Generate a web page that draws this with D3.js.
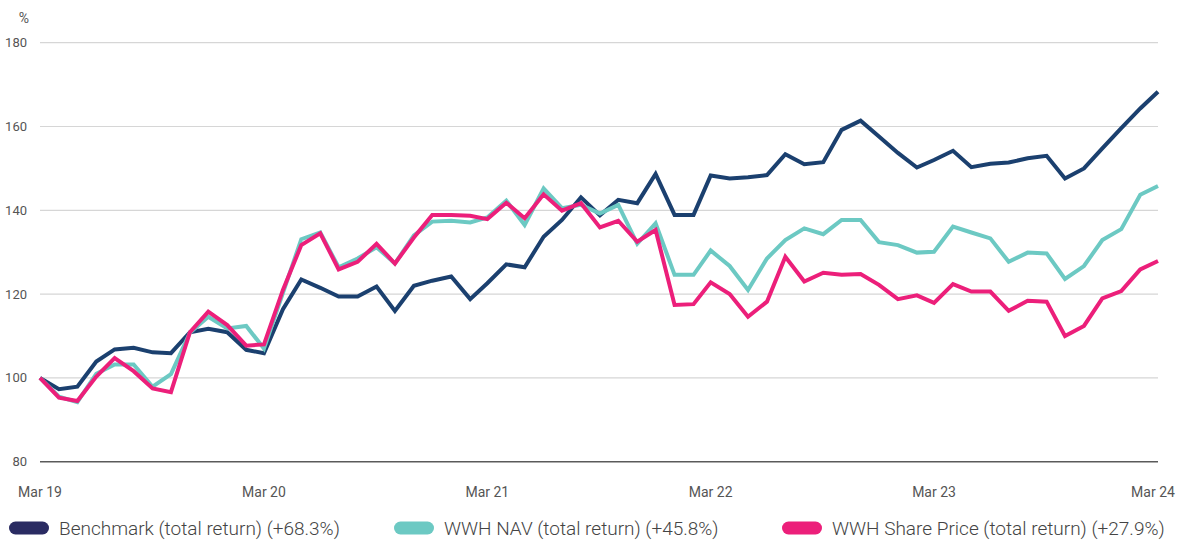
<!DOCTYPE html>
<html>
<head>
<meta charset="utf-8">
<script src="https://cdn.jsdelivr.net/npm/d3@7"></script>
<style>
  body { margin: 0; background: #fff; }
  #chart { width: 1184px; height: 543px; }
  text { font-family: Roboto, "Noto Sans", sans-serif; }
</style>
</head>
<body>
<div id="chart"></div>
<script>
(function () {

    // monthly index levels, Mar 19 = 100
    const benchmark = [100, 97.3, 97.9, 103.9, 106.8, 107.2, 106.1, 105.9, 110.9, 111.7, 110.9, 106.7, 105.9,
        116.4, 123.5, 121.5, 119.4, 119.4, 121.8, 116, 122, 123.2, 124.2, 118.8, 122.6,
        127.1, 126.4, 133.7, 137.7, 143.1, 138.8, 142.5, 141.7, 148.7, 138.9, 138.9, 148.3,
        147.6, 147.9, 148.4, 153.4, 151, 151.5, 159.2, 161.4, 157.6, 153.7, 150.2, 152,
        154.2, 150.3, 151.1, 151.4, 152.4, 153, 147.6, 150, 154.8, 159.6, 164.3, 168.3]

    const nav = [100, 95.5, 94.2, 101, 103.2, 103.2, 97.9, 100.9, 110.8, 114.6, 111.8, 112.4, 107,
        120.3, 133.1, 134.7, 126.4, 128.5, 131.2, 127.3, 134, 137.3, 137.5, 137.1, 138.3,
        142.3, 136.5, 145.2, 140.5, 141.3, 139.2, 141.3, 132, 136.9, 124.6, 124.6, 130.4,
        126.7, 121, 128.5, 132.9, 135.7, 134.3, 137.7, 137.7, 132.4, 131.7, 129.9, 130.1,
        136.1, 134.7, 133.3, 127.7, 129.9, 129.7, 123.6, 126.7, 132.9, 135.5, 143.7, 145.8]

    const sharePrice = [100, 95.3, 94.5, 100.3, 104.7, 101.6, 97.5, 96.6, 110.9, 115.8, 112.6, 107.7, 108,
        121, 131.7, 134.5, 125.9, 127.7, 132, 127.3, 133.5, 138.9, 138.9, 138.7, 137.9,
        141.8, 138.1, 143.8, 139.9, 141.7, 135.9, 137.5, 132.5, 135.3, 117.4, 117.6, 122.8,
        120, 114.6, 118.2, 128.9, 123, 125.1, 124.6, 124.8, 122.2, 118.8, 119.7, 117.9,
        122.4, 120.6, 120.6, 116, 118.4, 118.2, 110, 112.4, 119, 120.7, 125.9, 127.9]

    const xTickLabels = ['Mar 19', 'Mar 20', 'Mar 21', 'Mar 22', 'Mar 23', 'Mar 24']
    const yTicks = [80, 100, 120, 140, 160, 180]

    const seriesNames = ['Benchmark (total return) (+68.3%)', 'WWH NAV (total return) (+45.8%)', 'WWH Share Price (total return) (+27.9%)']
    const lineColors = ['#1b406f', '#6cc9c3', '#ec1f7a']
    const swatchColors = ['#2a2b62', '#6cc9c3', '#ec1f7a']

    const width = 1184
    const height = 543

    const startDate = new Date(2019, 2, 1)
    const dates = benchmark.map((d, i) => d3.timeMonth.offset(startDate, i))

    const svg = d3.select('#chart')
        .append('svg')
        .attr('width', width)
        .attr('height', height)

    const x = d3.scaleTime()
        .domain([dates[0], dates[dates.length - 1]])
        .range([40, 1158])

    const y = d3.scaleLinear()
        .domain([80, 180])
        .range([461.7, 42.7])

    // gridlines
    svg.append('g')
        .selectAll('line')
        .data(yTicks)
        .join('line')
        .attr('x1', 40)
        .attr('x2', 1158)
        .attr('y1', d => y(d))
        .attr('y2', d => y(d))
        .attr('stroke', d => d === 80 ? '#5a5a5a' : '#d6d6d6')
        .attr('stroke-width', d => d === 80 ? 1.5 : 1.2)

    svg.append('g')
        .selectAll('text')
        .data(yTicks)
        .join('text')
        .attr('x', 27)
        .attr('y', d => y(d) + 4.5)
        .attr('text-anchor', 'end')
        .attr('font-size', 13)
        .attr('fill', '#555')
        .text(d => d)

    svg.append('text')
        .attr('x', 24)
        .attr('y', 23)
        .attr('text-anchor', 'middle')
        .attr('font-size', 14)
        .attr('fill', '#555')
        .text('%')

    // x labels, one per year
    const xTickDates = xTickLabels.map((d, i) => dates[i * 12])
    svg.append('g')
        .selectAll('text')
        .data(xTickLabels)
        .join('text')
        .attr('x', (d, i) => i === xTickLabels.length - 1 ? x(xTickDates[i]) - 5 : x(xTickDates[i]))
        .attr('y', 497)
        .attr('text-anchor', 'middle')
        .attr('font-size', 14)
        .attr('fill', '#555')
        .text(d => d)

    const line = d3.line()
        .x((d, i) => x(dates[i]))
        .y(d => y(d))

    const allSeries = [benchmark, nav, sharePrice]

    svg.append('g')
        .selectAll('path')
        .data(allSeries)
        .join('path')
        .attr('d', line)
        .attr('fill', 'none')
        .attr('stroke', (d, i) => lineColors[i])
        .attr('stroke-width', 4)
        .attr('stroke-linejoin', 'miter')

    // legend
    const legendX = [9, 394, 782]
    const legend = svg.append('g')
        .selectAll('g')
        .data(seriesNames)
        .join('g')
        .attr('transform', (d, i) => `translate(${legendX[i]}, 528)`)

    legend.append('rect')
        .attr('x', 0)
        .attr('y', -6.5)
        .attr('width', 40)
        .attr('height', 13)
        .attr('rx', 6.5)
        .attr('fill', (d, i) => swatchColors[i])

    legend.append('text')
        .attr('x', 50)
        .attr('y', 7)
        .attr('font-size', 19)
        .attr('font-weight', 300)
        .attr('fill', '#444')
        .text(d => d)

})();
</script>
</body>
</html>
